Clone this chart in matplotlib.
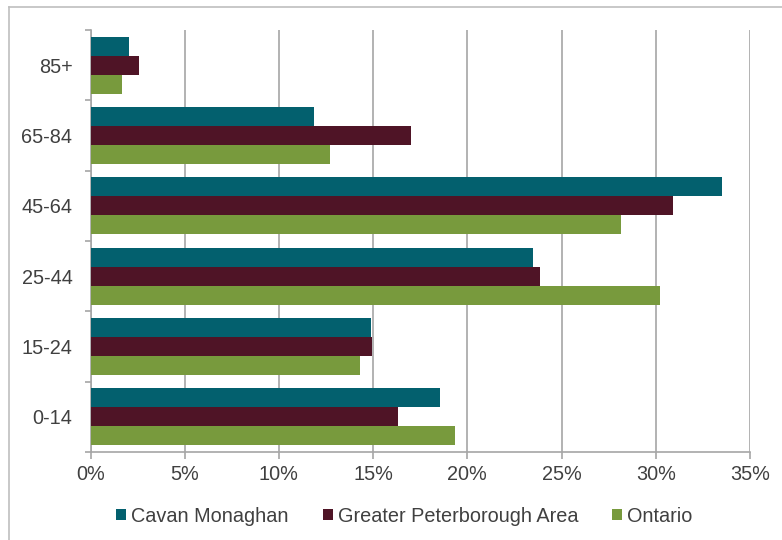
import matplotlib
matplotlib.use("Agg")
import matplotlib.pyplot as plt
from matplotlib.patches import Patch
from matplotlib.lines import Line2D
import numpy as np

categories = ["0-14", "15-24", "25-44", "45-64", "65-84", "85+"]
cavan = [18.57, 14.87, 23.5, 33.5, 11.85, 2.06]
peterborough = [16.3, 14.93, 23.87, 30.9, 17.0, 2.57]
ontario = [19.37, 14.29, 30.25, 28.16, 12.73, 1.65]
series_names = ["Cavan Monaghan", "Greater Peterborough Area", "Ontario"]
colors = ["#03606E", "#4F1426", "#789A3D"]
xticks = [0, 5, 10, 15, 20, 25, 30, 35]
xticklabels = ["0%", "5%", "10%", "15%", "20%", "25%", "30%", "35%"]

plt.rcParams['font.family'] = ['Liberation Sans', 'DejaVu Sans']
W, H = 782, 540
FS = 14.3
fig = plt.figure(figsize=(W / 100, H / 100), dpi=100)
left, right, top, bottom = 90.5, 750, 30, 452
ax = fig.add_axes([left / W, 1 - bottom / H, (right - left) / W, (bottom - top) / H])

y = np.arange(len(categories))
bh = 0.27
for vals, off, c in zip([cavan, peterborough, ontario], [bh, 0, -bh], colors):
    ax.barh(y + off, vals, height=bh, color=c, zorder=3, linewidth=0)

ax.set_xlim(0, 35)
ax.set_ylim(-0.5, len(categories) - 0.5)
ax.set_xticks(xticks)
ax.set_xticklabels(xticklabels)
ax.set_yticks(np.arange(-0.5, len(categories), 1.0))
ax.set_yticklabels([])
ax.set_yticks(y, minor=True)
ax.set_yticklabels(categories, minor=True)

grid_c = "#A6A6A6"
text_c = "#404040"
ax.grid(axis='x', color=grid_c, linewidth=1.2, zorder=0)
for s in ['top', 'right']:
    ax.spines[s].set_visible(False)
for s in ['left', 'bottom']:
    ax.spines[s].set_color(grid_c)
    ax.spines[s].set_linewidth(1.2)
ax.tick_params(axis='x', which='major', length=5, color=grid_c, width=1.2,
               labelsize=FS, labelcolor=text_c, pad=4)
ax.tick_params(axis='y', which='major', length=4, color=grid_c, width=1.2)
ax.tick_params(axis='y', which='minor', length=0, labelsize=FS,
               labelcolor=text_c, pad=13)

handles = [Patch(facecolor=c, edgecolor='none', label=n) for c, n in zip(colors, series_names)]
fig.legend(handles=handles, loc='center', bbox_to_anchor=(0.517, 1 - 516 / H), ncol=3,
           frameon=False, fontsize=FS, handlelength=0.5, handleheight=0.5,
           handletextpad=0.25, columnspacing=1.7, labelcolor=text_c)

border_c = "#BFBFBF"
fig.add_artist(Line2D([9 / W, 9 / W], [0, 1 - 7 / H], color=border_c, linewidth=1.2,
                      transform=fig.transFigure))
fig.add_artist(Line2D([9 / W, 1], [1 - 7 / H, 1 - 7 / H], color=border_c, linewidth=1.2,
                      transform=fig.transFigure))

fig.savefig("out.png", dpi=100)
